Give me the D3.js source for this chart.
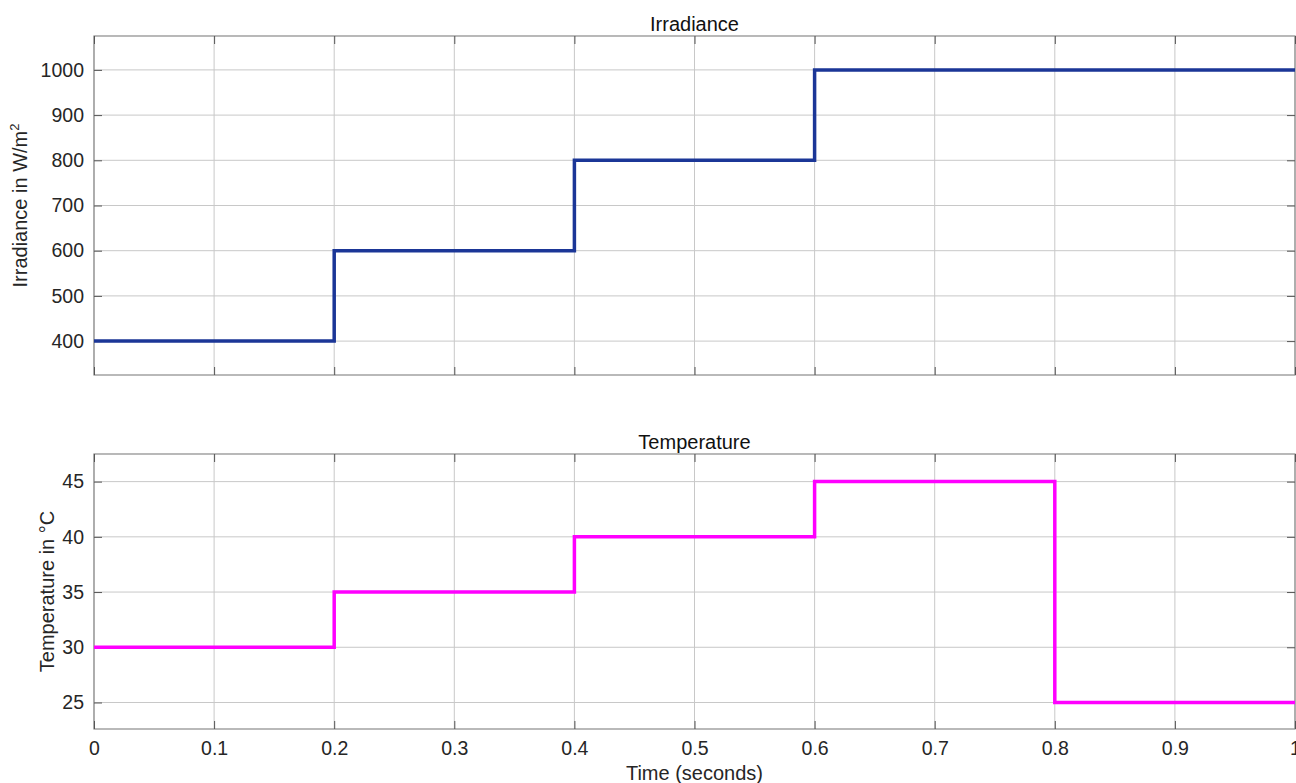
<!DOCTYPE html>
<html>
<head>
<meta charset="utf-8">
<script src="https://cdn.jsdelivr.net/npm/d3@7"></script>
<style>
  body { margin: 0; background: #fff; }
  svg { display: block; font-family: "Liberation Sans", Arial, sans-serif; }
  .tick text { fill: #262626; }
</style>
</head>
<body>
<svg id="chart" width="1296" height="783"></svg>
<script>
// step signals: time breakpoints and values
const irrTime = [0, 0.2, 0.2, 0.4, 0.4, 0.6, 0.6, 1];
const irrValue = [400, 400, 600, 600, 800, 800, 1000, 1000];
const tempTime = [0, 0.2, 0.2, 0.4, 0.4, 0.6, 0.6, 0.8, 0.8, 1];
const tempValue = [30, 30, 35, 35, 40, 40, 45, 45, 25, 25];

const xTicks = [0, 0.1, 0.2, 0.3, 0.4, 0.5, 0.6, 0.7, 0.8, 0.9, 1];
const irrTicks = [400, 500, 600, 700, 800, 900, 1000];
const tempTicks = [25, 30, 35, 40, 45];

const svg = d3.select("#chart");
const left = 94, right = 1295;

const x = d3.scaleLinear().domain([0, 1]).range([left, right]);

function panel(opts) {
    const y = d3.scaleLinear().domain(opts.domain).range([opts.bottom, opts.top]);
    const g = svg.append("g");

    // grid
    g.selectAll(".gx").data(xTicks).enter().append("line")
        .attr("x1", d => x(d)).attr("x2", d => x(d))
        .attr("y1", opts.top).attr("y2", opts.bottom)
        .attr("stroke", "#c8c8c8").attr("stroke-width", 1);
    g.selectAll(".gy").data(opts.ticks).enter().append("line")
        .attr("x1", left).attr("x2", right)
        .attr("y1", d => y(d)).attr("y2", d => y(d))
        .attr("stroke", "#c8c8c8").attr("stroke-width", 1);

    // box
    g.append("rect").attr("x", left).attr("y", opts.top)
        .attr("width", right - left).attr("height", opts.bottom - opts.top)
        .attr("fill", "none").attr("stroke", "#8a8a8a").attr("stroke-width", 1.2);

    // axes with inward ticks
    const xa = g.append("g").attr("transform", "translate(0," + opts.bottom + ")")
        .call(d3.axisBottom(x).tickValues(xTicks).tickSizeInner(-8).tickSizeOuter(0)
            .tickPadding(12).tickFormat(opts.xLabels ? d3.format("") : () => ""));
    const xb = g.append("g").attr("transform", "translate(0," + opts.top + ")")
        .call(d3.axisTop(x).tickValues(xTicks).tickSizeInner(-8).tickSizeOuter(0).tickFormat(() => ""));
    const ya = g.append("g").attr("transform", "translate(" + left + ",0)")
        .call(d3.axisLeft(y).tickValues(opts.ticks).tickSizeInner(-8).tickSizeOuter(0)
            .tickPadding(10).tickFormat(d3.format("d")));
    const yb = g.append("g").attr("transform", "translate(" + right + ",0)")
        .call(d3.axisRight(y).tickValues(opts.ticks).tickSizeInner(-8).tickSizeOuter(0).tickFormat(() => ""));
    [xa, xb, ya, yb].forEach(a => {
        a.select(".domain").remove();
        a.selectAll(".tick line").attr("stroke", "#555");
        a.selectAll(".tick text").style("font-size", "19.5px");
    });

    // signal
    const line = d3.line().x(d => x(d[0])).y(d => y(d[1]));
    g.append("path").datum(d3.zip(opts.time, opts.value))
        .attr("d", line).attr("fill", "none")
        .attr("stroke", opts.color).attr("stroke-width", 3.5);

    // title
    g.append("text").attr("x", (left + right) / 2).attr("y", opts.top - 5)
        .attr("text-anchor", "middle").style("font-size", "20px").attr("fill", "#111")
        .text(opts.title);

    return { g, y };
}

const irrPanel = panel({
    top: 36, bottom: 375, domain: [325, 1075], ticks: irrTicks,
    time: irrTime, value: irrValue, color: "#1b3697", title: "Irradiance", xLabels: false
});
const tempPanel = panel({
    top: 454, bottom: 729, domain: [22.6, 47.5], ticks: tempTicks,
    time: tempTime, value: tempValue, color: "#ff00ff", title: "Temperature", xLabels: true
});

// axis labels
const yl1 = svg.append("text")
    .attr("transform", "translate(27," + (36 + 375) / 2 + ") rotate(-90)")
    .attr("text-anchor", "middle").style("font-size", "20px").attr("fill", "#262626");
yl1.append("tspan").text("Irradiance in W/m");
yl1.append("tspan").attr("dy", -8).style("font-size", "13px").text("2");

svg.append("text")
    .attr("transform", "translate(54," + (454 + 729) / 2 + ") rotate(-90)")
    .attr("text-anchor", "middle").style("font-size", "20px").attr("fill", "#262626")
    .text("Temperature in \u00B0C");

svg.append("text").attr("x", (left + right) / 2).attr("y", 780)
    .attr("text-anchor", "middle").style("font-size", "20px").attr("fill", "#262626")
    .text("Time (seconds)");
</script>
</body>
</html>
